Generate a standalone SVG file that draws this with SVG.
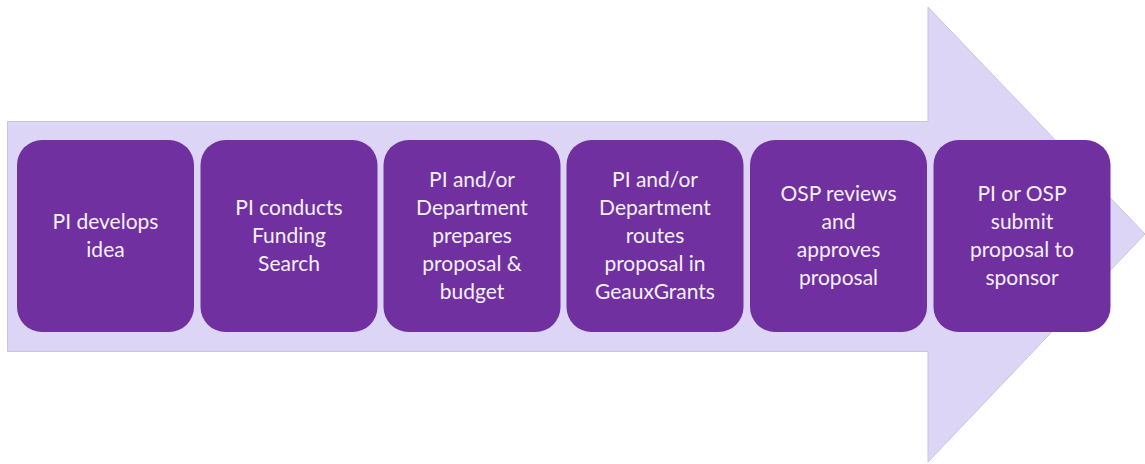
<svg xmlns="http://www.w3.org/2000/svg" width="1145" height="464" viewBox="0 0 1145 464">
<style>
.box{fill:#7030A0;}
.lbl{font-family:Lato,"Open Sans","Liberation Sans",sans-serif;font-size:21px;fill:#F4F0F8;text-anchor:middle;}
</style>
<rect width="1145" height="464" fill="#FFFFFF"/>
<g id="arrow">
<path d="M7.5,121.5 H928 V7 L1145,234 L928,462 V351.5 H7.5 Z" fill="#DDD5F5" stroke="#CBC4DC" stroke-width="1"/>
</g>
<g id="connectors"></g>
<g id="n1">
<rect class="box" x="17" y="140" width="177" height="192" rx="25"/>
<text class="lbl" x="105.5" y="229">PI develops</text>
<text class="lbl" x="105.5" y="257">idea</text>
</g>
<g id="n2">
<rect class="box" x="200.5" y="140" width="177" height="192" rx="25"/>
<text class="lbl" x="289" y="215">PI conducts</text>
<text class="lbl" x="289" y="243">Funding</text>
<text class="lbl" x="289" y="271">Search</text>
</g>
<g id="n3">
<rect class="box" x="383.5" y="140" width="177" height="192" rx="25"/>
<text class="lbl" x="472" y="187">PI and/or</text>
<text class="lbl" x="472" y="215">Department</text>
<text class="lbl" x="472" y="243">prepares</text>
<text class="lbl" x="472" y="271">proposal &amp;</text>
<text class="lbl" x="472" y="299">budget</text>
</g>
<g id="n4">
<rect class="box" x="566.5" y="140" width="177" height="192" rx="25"/>
<text class="lbl" x="655" y="187">PI and/or</text>
<text class="lbl" x="655" y="215">Department</text>
<text class="lbl" x="655" y="243">routes</text>
<text class="lbl" x="655" y="271">proposal in</text>
<text class="lbl" x="655" y="299">GeauxGrants</text>
</g>
<g id="n5">
<rect class="box" x="750" y="140" width="177" height="192" rx="25"/>
<text class="lbl" x="838.5" y="201">OSP reviews</text>
<text class="lbl" x="838.5" y="229">and</text>
<text class="lbl" x="838.5" y="257">approves</text>
<text class="lbl" x="838.5" y="285">proposal</text>
</g>
<g id="n6">
<rect class="box" x="933.5" y="140" width="177" height="192" rx="25"/>
<text class="lbl" x="1022" y="201">PI or OSP</text>
<text class="lbl" x="1022" y="229">submit</text>
<text class="lbl" x="1022" y="257">proposal to</text>
<text class="lbl" x="1022" y="285">sponsor</text>
</g>
</svg>
